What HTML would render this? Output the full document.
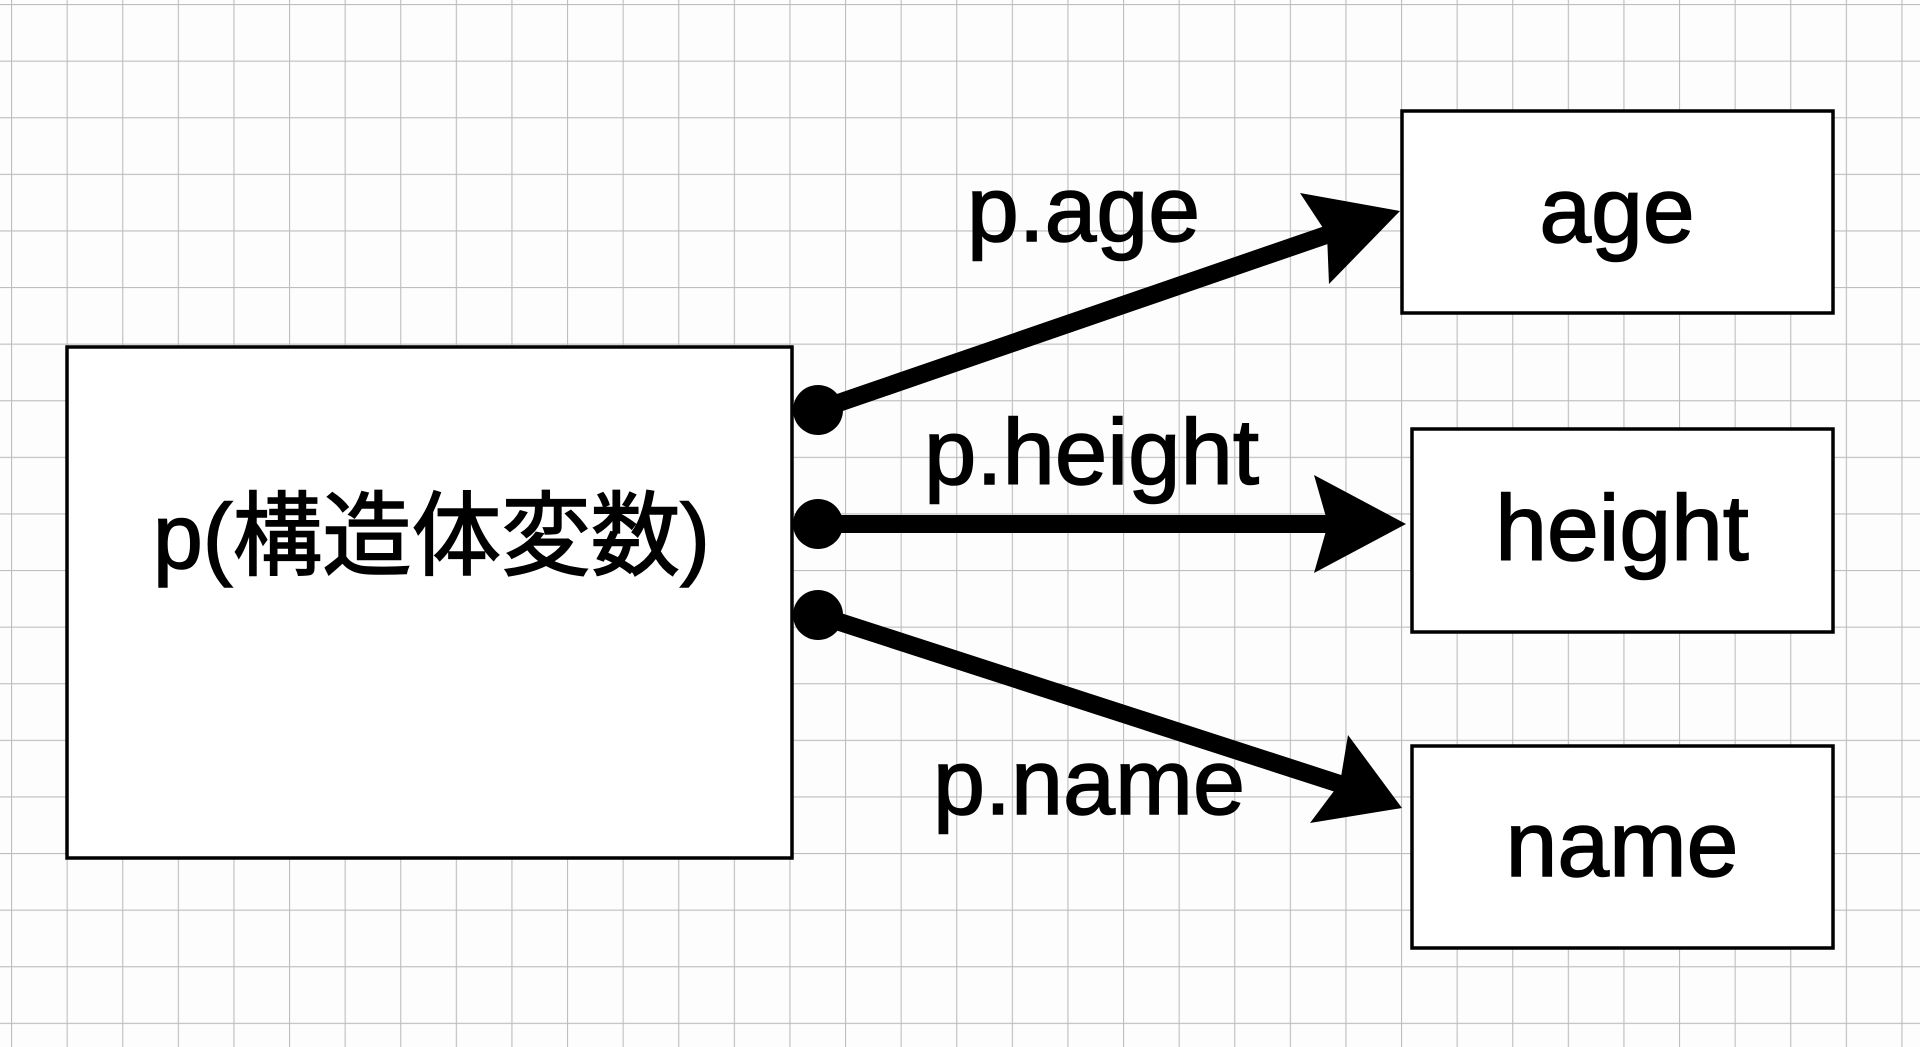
<!DOCTYPE html>
<html><head><meta charset="utf-8"><style>
html,body{margin:0;padding:0;background:#fff;}
svg{display:block;}
text{font-family:"Liberation Sans","Noto Sans CJK JP",sans-serif;fill:#000;stroke:#000;stroke-width:1.5;}
</style></head><body>
<svg width="1920" height="1047" viewBox="0 0 1920 1047" xmlns="http://www.w3.org/2000/svg">
<defs>
<pattern id="g" x="11" y="4" width="55.6" height="56.6" patternUnits="userSpaceOnUse">
<path d="M0 0V56.6M0 0H55.6" stroke="#bdbdbd" stroke-width="2.2" fill="none"/>
</pattern>
</defs>
<rect width="1920" height="1047" fill="#fdfdfd"/>
<rect width="1920" height="1047" fill="url(#g)"/>
<g fill="#fff" stroke="#000" stroke-width="3.5">
<rect x="67" y="347" width="725" height="511"/>
<rect x="1402" y="111" width="431" height="202"/>
<rect x="1412" y="429" width="421" height="203"/>
<rect x="1412" y="746" width="421" height="202"/>
</g>
<g stroke="#000" stroke-width="18" fill="none">
<line x1="818" y1="410" x2="1335" y2="232"/>
<line x1="818" y1="524" x2="1335" y2="524"/>
<line x1="818" y1="615" x2="1343" y2="785"/>
</g>
<g fill="#000">
<circle cx="818" cy="410" r="25"/>
<circle cx="818" cy="524" r="25"/>
<circle cx="818" cy="615" r="25"/>
<polygon points="1400,211 1300,193 1327,234 1329,284"/>
<polygon points="1406,524 1314,475 1328,524 1314,573"/>
<polygon points="1402,808 1348,735 1340,783 1310,823"/>
</g>
<g font-size="93">
<text x="967" y="241" textLength="233" lengthAdjust="spacingAndGlyphs">p.age</text>
<text x="924" y="484" textLength="335" lengthAdjust="spacingAndGlyphs">p.height</text>
<text x="933" y="814" textLength="312" lengthAdjust="spacingAndGlyphs">p.name</text>
<text x="1617" y="242" text-anchor="middle">age</text>
<text x="1622" y="560" text-anchor="middle">height</text>
<text x="1622" y="876" text-anchor="middle">name</text>
<text x="153" y="568" font-size="92" textLength="557" lengthAdjust="spacingAndGlyphs">p(構造体変数)</text>
</g>
</svg>
</body></html>
